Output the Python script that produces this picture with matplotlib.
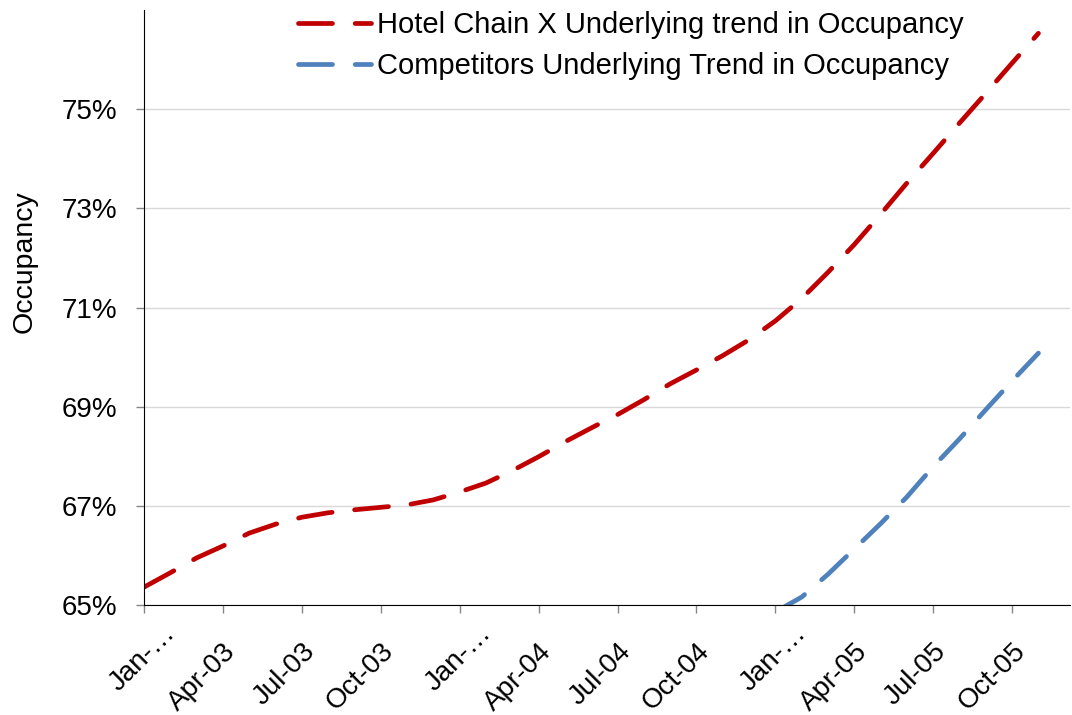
import matplotlib
matplotlib.use('Agg')
import matplotlib.pyplot as plt
from matplotlib.transforms import ScaledTranslation
import numpy as np

plt.rcParams['font.family'] = ['Liberation Sans', 'DejaVu Sans']

# months from Jan-03 to Nov-05 (index 0..34)
months = list(range(35))
tick_labels = ['Jan-…', 'Apr-03', 'Jul-03', 'Oct-03', 'Jan-…', 'Apr-04',
               'Jul-04', 'Oct-04', 'Jan-…', 'Apr-05', 'Jul-05', 'Oct-05']

# occupancy in %
hotel_x = [65.36, 65.65, 65.95, 66.19, 66.45, 66.63, 66.77, 66.86, 66.92, 66.97,
           67.02, 67.12, 67.28, 67.46, 67.71, 67.99, 68.29, 68.57, 68.84, 69.14,
           69.46, 69.74, 70.03, 70.35, 70.73, 71.18, 71.71, 72.27, 72.88, 73.51,
           74.11, 74.72, 75.32, 75.93, 76.53]
competitors = [np.nan] * 24 + [64.86, 65.16, 65.62, 66.13, 66.64, 67.18,
                               67.79, 68.35, 68.94, 69.52, 70.08]

red = '#C00000'
blue = '#4F81BD'

fig = plt.figure(figsize=(10.72, 7.15), dpi=100)
ax = fig.add_axes([144/1072, 1-605/715, (1070-144)/1072, (605-10)/715])

l1, = ax.plot(months, hotel_x, color=red, lw=3.4, label='Hotel Chain X Underlying trend in Occupancy')
l2, = ax.plot(months, competitors, color=blue, lw=3.4, label='Competitors Underlying Trend in Occupancy')
for l in (l1, l2):
    l.set_dashes((7.2, 4.8))
    l.set_dash_capstyle('round')

ax.set_xlim(0, 35.2)
ax.set_ylim(65, 77)
ax.set_yticks([65, 67, 69, 71, 73, 75])
ax.set_yticklabels(['65%', '67%', '69%', '71%', '73%', '75%'])
ax.set_xticks(range(0, 34, 3))
ax.set_xticklabels(tick_labels, rotation=45, ha='right', va='top', rotation_mode='anchor')

ax.grid(axis='y', color='#D9D9D9', lw=1)
ax.set_axisbelow(True)
for s in ['top', 'right']:
    ax.spines[s].set_visible(False)
ax.spines['left'].set_color('black')
ax.spines['bottom'].set_color('black')
ax.tick_params(axis='both', direction='out', color='#868686', length=6, width=1, labelsize=20)
ax.tick_params(axis='y', pad=13)
ax.tick_params(axis='x', pad=18)

# the truncated "Jan-…" labels sit a bit further up/right
for lab in ax.get_xticklabels():
    if lab.get_text().startswith('Jan'):
        lab.set_transform(lab.get_transform() + ScaledTranslation(13/72, 13/72, fig.dpi_scale_trans))

fig.text(25/1072, 1-262/715, 'Occupancy', rotation=90, fontsize=20.5, ha='center', va='center')

leg = fig.legend(handles=[l1, l2], loc='upper left', bbox_to_anchor=(298/1072, 1-11/715),
                 frameon=False, fontsize=21, borderpad=0, borderaxespad=0,
                 handlelength=2.5, handletextpad=0.2, labelspacing=0.45)

fig.savefig('out.png', dpi=100)
